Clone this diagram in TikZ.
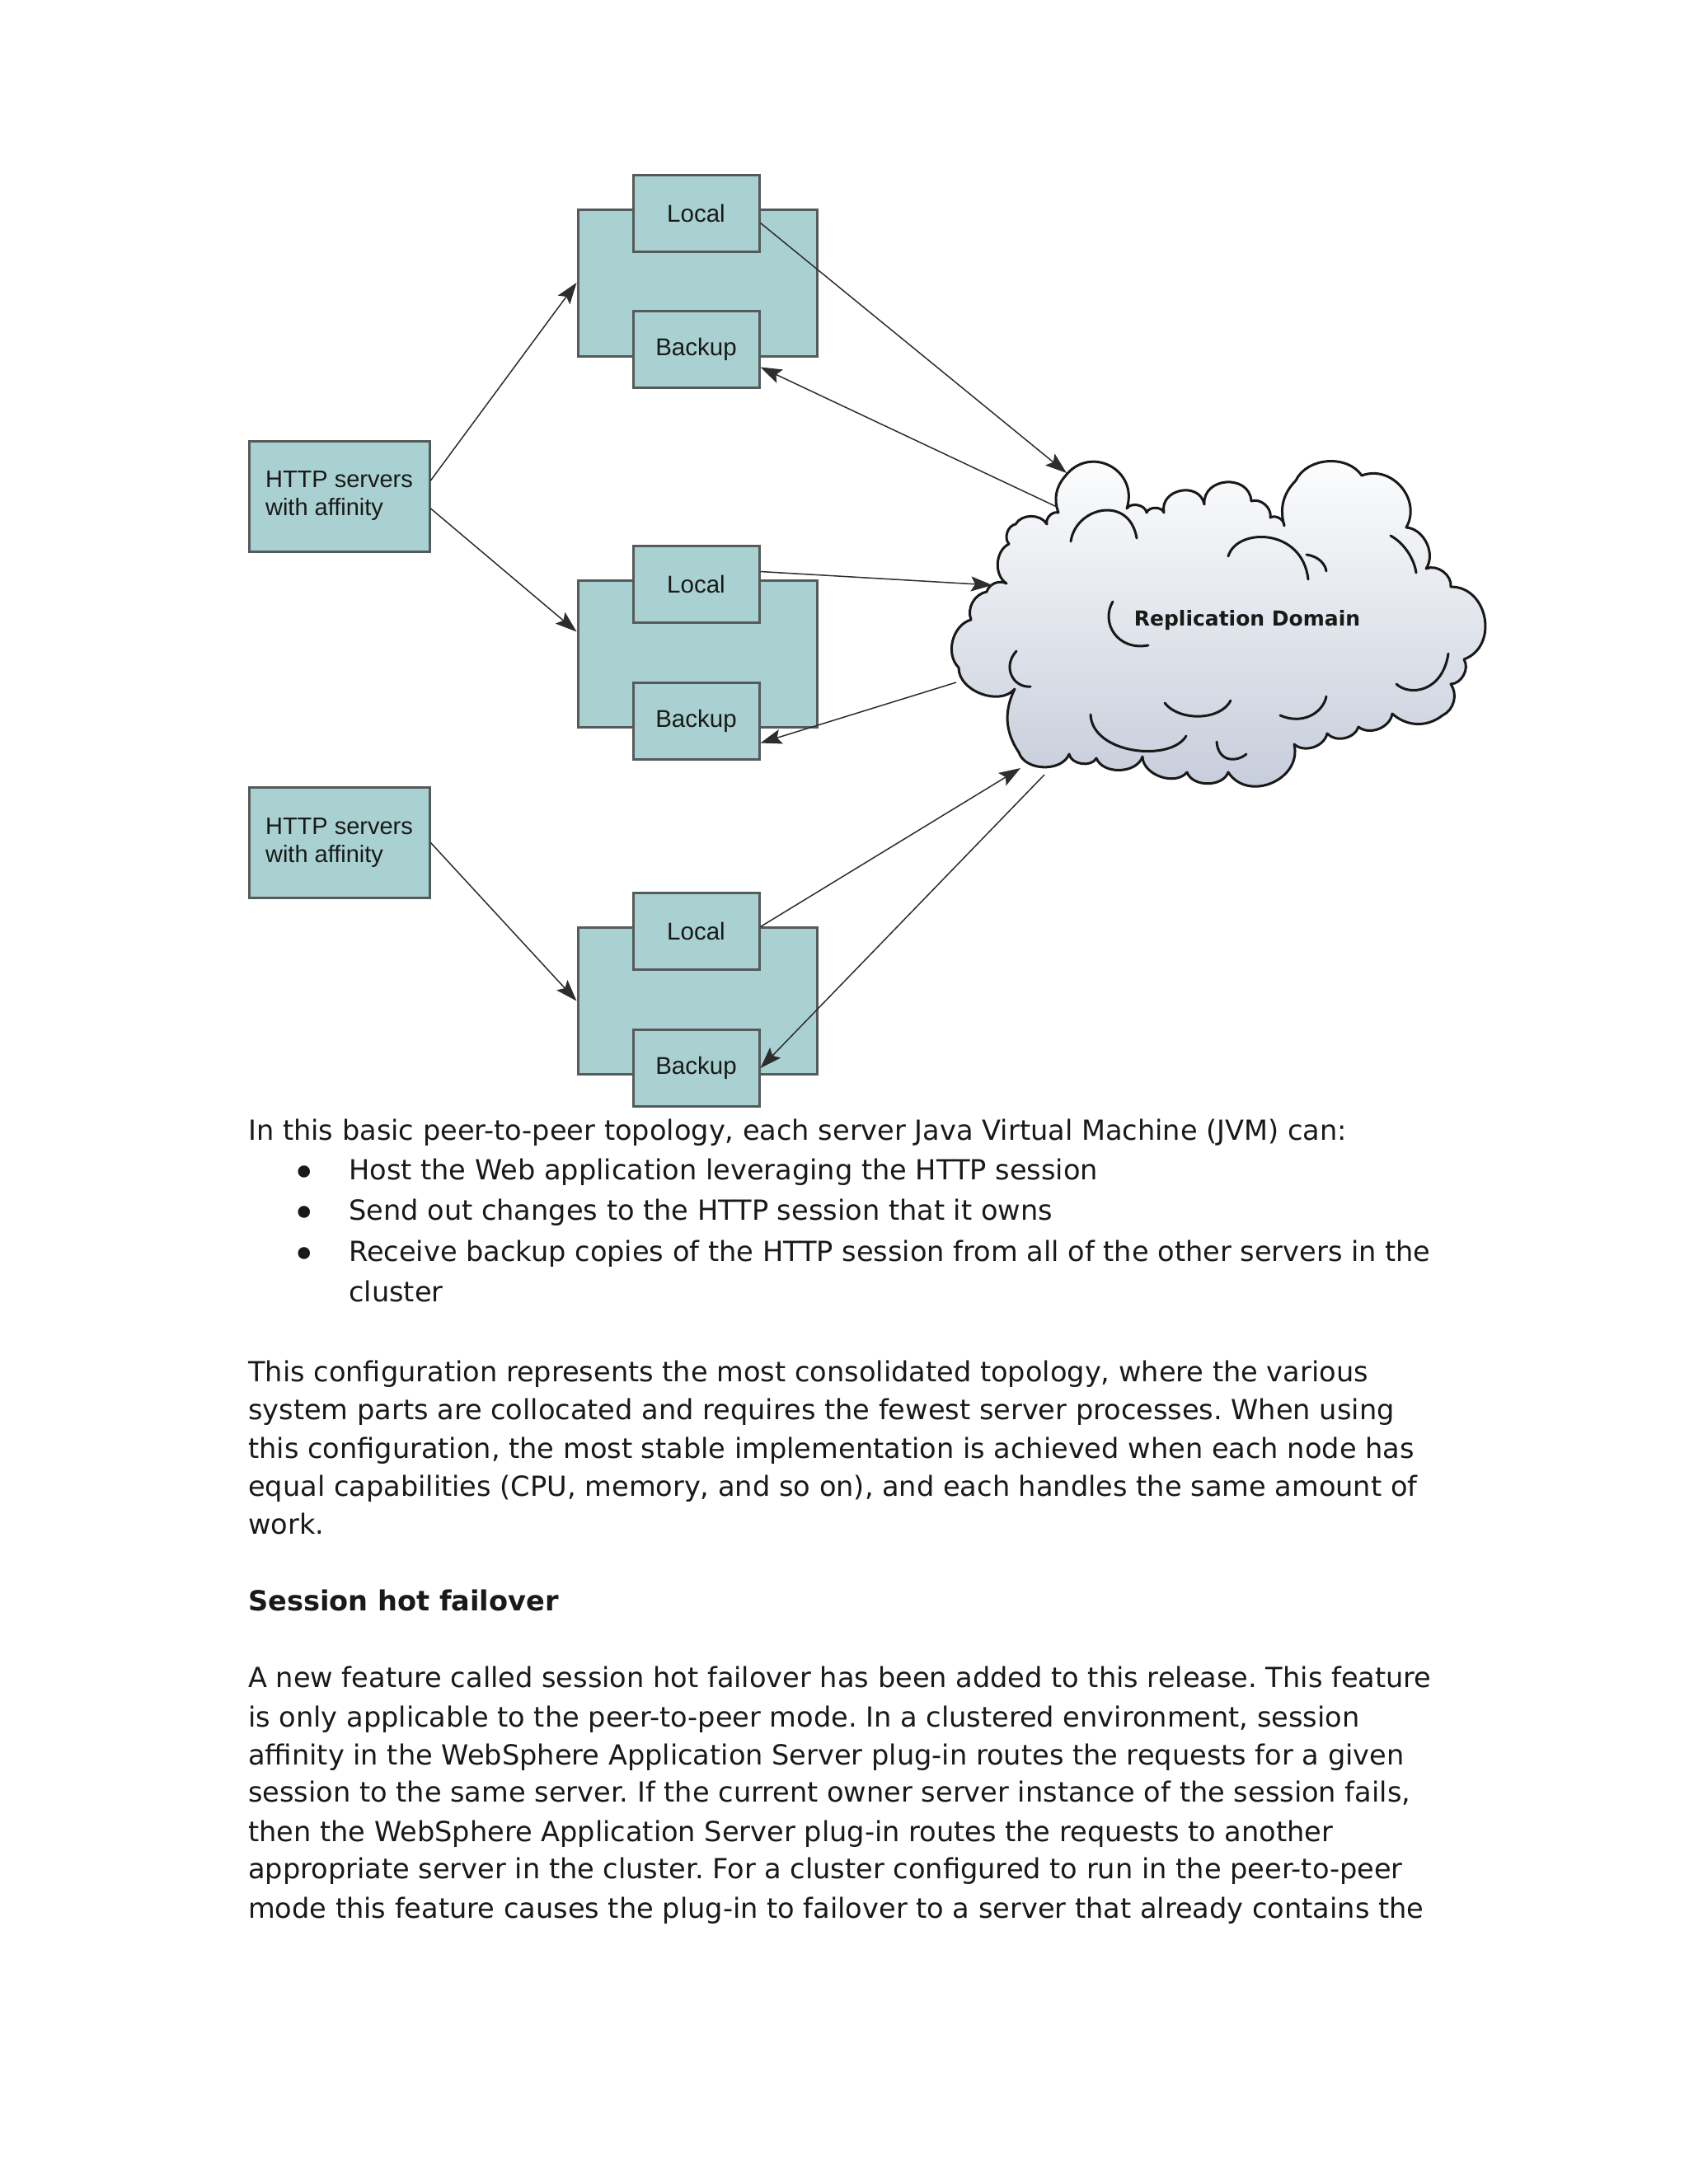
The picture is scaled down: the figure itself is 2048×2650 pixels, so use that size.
\documentclass[tikz,border=0pt]{standalone}
\usepackage{fontspec}
\setmainfont{DejaVu Sans}
\newfontfamily\arialf{Liberation Sans}
\usetikzlibrary{arrows.meta}
\definecolor{boxfill}{RGB}{169,209,209}
\definecolor{boxline}{RGB}{85,90,90}
\definecolor{cloudbot}{RGB}{196,203,217}
\definecolor{arrowc}{RGB}{45,45,45}
\definecolor{txtc}{RGB}{25,25,25}
\frenchspacing
\begin{document}
\begin{tikzpicture}[x=1pt,y=-1pt,
  server/.style={draw=boxline, fill=boxfill, line width=3pt, inner sep=0pt, minimum width=290pt, minimum height=178pt},
  part/.style={draw=boxline, fill=boxfill, line width=3pt, inner sep=0pt, minimum width=153pt, minimum height=93pt, font=\arialf\fontsize{29.5}{34}\selectfont, text=txtc},
  http/.style={draw=boxline, fill=boxfill, line width=3pt, inner sep=0pt, minimum width=219pt, minimum height=134pt, align=left, font=\arialf\fontsize{29}{34}\selectfont, text=txtc},
  conn/.style={draw=arrowc, line width=1.5pt, -{Stealth[length=26pt,width=18pt,inset=5pt]}},
  cloudline/.style={draw=black!90, line width=3pt, line join=round},
  inarc/.style={draw=black!90, line width=3pt, line cap=round},
  body/.style={inner sep=0pt, anchor=base west, text=txtc, font=\frenchspacing\fontsize{33.6}{47}\selectfont},
  bul/.style={inner sep=0pt, anchor=center, text=txtc, font=\fontsize{50}{50}\selectfont},
  head/.style={inner sep=0pt, anchor=base west, text=txtc, font=\bfseries\fontsize{33.6}{47}\selectfont},
]
\path[fill=white] (0,0) rectangle (2048,2650);
\useasboundingbox (0,0) rectangle (2048,2650);

% cloud
\draw[cloudline, top color=white, bottom color=cloudbot]
 (1221,708) to[bend left=60] (1224,660)
 to[bend left=60] (1232,636)
 to[bend left=60] (1270,636)
 to[bend left=60] (1284,622)
 to[bend left=30] (1292,578)
 to[bend left=80,looseness=1.5] (1367,617)
 to[bend left=70] (1391,622)
 to[bend left=70] (1412,622)
 to[bend left=90,looseness=1.5] (1461,612)
 to[bend left=90,looseness=1.5] (1518,608)
 to[bend left=60] (1541,628)
 to[bend left=60] (1558,638)
 to[bend left=30] (1572,583)
 to[bend left=60] (1652,577)
 to[bend left=70,looseness=1.2] (1706,640)
 to[bend left=60] (1730,690)
 to[bend left=60] (1760,712)
 to[bend left=80,looseness=1.3] (1776,800)
 to[bend left=60] (1760,830)
 to[bend left=50] (1750,868)
 to[bend left=40] (1689,866)
 to[bend left=60] (1648,882)
 to[bend left=60] (1610,890)
 to[bend left=60] (1570,903)
 to[bend left=80,looseness=1.3] (1490,937)
 to[bend left=70] (1440,937)
 to[bend left=70] (1386,918)
 to[bend left=70] (1330,920)
 to[bend left=70] (1297,915)
 to[bend left=70] (1236,913)
 to[bend left=30] (1231,836)
 to[bend left=70] (1163,810)
 to[bend left=60] (1178,752)
 to[bend left=50] (1197,718)
 to[bend left=50] (1221,708) -- cycle;
% interior arcs
\draw[inarc] (1299,657) .. controls (1305,615) and (1370,600) .. (1379,653);
\draw[inarc] (1490,675) .. controls (1500,640) and (1580,640) .. (1587,703);
\draw[inarc] (1585,673) .. controls (1600,675) and (1608,685) .. (1609,693);
\draw[inarc] (1687,650) .. controls (1705,660) and (1716,680) .. (1718,695);
\draw[inarc] (1350,730) .. controls (1335,755) and (1355,790) .. (1393,783);
\draw[inarc] (1233,790) .. controls (1215,810) and (1230,835) .. (1250,833);
\draw[inarc] (1323,867) .. controls (1325,915) and (1420,925) .. (1439,893);
\draw[inarc] (1413,853) .. controls (1430,875) and (1480,875) .. (1493,850);
\draw[inarc] (1553,868) .. controls (1580,880) and (1605,865) .. (1609,845);
\draw[inarc] (1476,900) .. controls (1478,925) and (1500,925) .. (1512,915);
\draw[inarc] (1694,830) .. controls (1710,845) and (1750,840) .. (1757,793);
\node[inner sep=0pt, text=txtc, font=\bfseries\fontsize{25}{30}\selectfont] (rd) at (1513,753) {Replication Domain};

% servers
\node[server] (s1) at (846,343) {};
\node[part] (l1) at (844.5,258.5) {Local};
\node[part] (b1) at (844.5,423.5) {Backup};
\node[server] (s2) at (846,793.5) {};
\node[part] (l2) at (844.5,708.5) {Local};
\node[part] (b2) at (844.5,874.5) {Backup};
\node[server] (s3) at (846,1214.5) {};
\node[part] (l3) at (844.5,1129.5) {Local};
\node[part] (b3) at (844.5,1296) {Backup};
\node[http] (h1) at (411.5,602) {HTTP servers\\with affinity};
\node[http] (h2) at (411.5,1022.5) {HTTP servers\\with affinity};

% cloud attachment points
\coordinate (c3) at (1294,574);
\coordinate (c4) at (1282,615);
\coordinate (c5) at (1204,710);
\coordinate (c6) at (1160,828);
\coordinate (c8) at (1238,932);
\coordinate (c9) at (1267,940);

% connectors
\draw[conn] ([yshift=19pt]h1.east) -- (s1.west);
\draw[conn] ([yshift=-15pt]h1.east) -- ([yshift=27pt]s2.west);
\draw[conn] (h2.east) -- (s3.west);
\draw[conn] ([yshift=-12pt]l1.east) -- (c3);
\draw[conn] (c4) -- ([yshift=-22pt]b1.east);
\draw[conn] ([yshift=15pt]l2.east) -- (c5);
\draw[conn] (c6) -- ([yshift=-27pt]b2.east);
\draw[conn] ([yshift=5pt]l3.east) -- (c8);
\draw[conn] (c9) -- (b3.east);

% text
\node[body] (t0) at (301,1383) {In this basic peer-to-peer topology, each server Java Virtual Machine (JVM) can:};
\node[bul] (bu1) at (369,1428) {•};
\node[body] (t1) at (423,1431) {Host the Web application leveraging the HTTP session};
\node[bul] (bu2) at (369,1477) {•};
\node[body] (t2) at (423,1480) {Send out changes to the HTTP session that it owns};
\node[bul] (bu3) at (369,1527) {•};
\node[body] (t3) at (423,1530) {Receive backup copies of the HTTP session from all of the other servers in the};
\node[body] (t4) at (423,1579) {cluster};
\node[body] (p1) at (301,1676) {This configuration represents the most consolidated topology, where the various};
\node[body] (p2) at (301,1722) {system parts are collocated and requires the fewest server processes. When using};
\node[body] (p3) at (301,1769) {this configuration, the most stable implementation is achieved when each node has};
\node[body] (p4) at (301,1815) {equal capabilities (CPU, memory, and so on), and each handles the same amount of};
\node[body] (p5) at (301,1861) {work.};
\node[head] (hd) at (301,1954) {Session hot failover};
\node[body] (q1) at (301,2047) {A new feature called session hot failover has been added to this release. This feature};
\node[body] (q2) at (301,2095) {is only applicable to the peer-to-peer mode. In a clustered environment, session};
\node[body] (q3) at (301,2141) {affinity in the WebSphere Application Server plug-in routes the requests for a given};
\node[body] (q4) at (301,2186) {session to the same server. If the current owner server instance of the session fails,};
\node[body] (q5) at (301,2234) {then the WebSphere Application Server plug-in routes the requests to another};
\node[body] (q6) at (301,2279) {appropriate server in the cluster. For a cluster configured to run in the peer-to-peer};
\node[body] (q7) at (301,2327) {mode this feature causes the plug-in to failover to a server that already contains the};
\end{tikzpicture}
\end{document}
